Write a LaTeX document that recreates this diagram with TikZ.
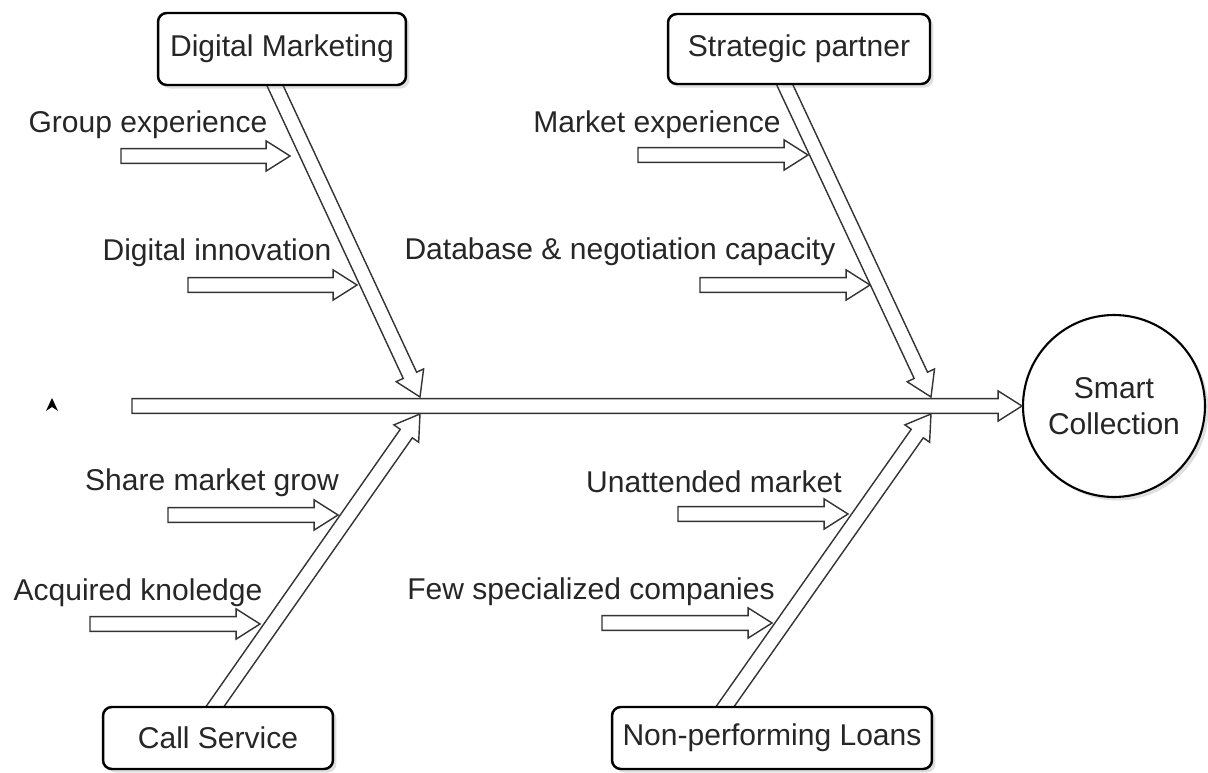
\documentclass[tikz,border=0pt]{standalone}
\usepackage{fontspec}
\setmainfont{Liberation Sans}
\usetikzlibrary{calc,shadows}

% hollow block arrow from #1 to #2
\newcommand{\blockarrow}[2]{%
  \draw[blockarrow] let \p1=(#1), \p2=(#2),
    \n1={atan2(\y2-\y1,\x2-\x1)}, \n2={veclen(\x2-\x1,\y2-\y1)} in
    [shift={(\p1)}, rotate=\n1]
    (0pt,-4.2pt) -- ({\n2-13.6pt},-4.2pt) -- ({\n2-13.6pt},-8.6pt) -- (\n2,0pt)
    -- ({\n2-13.6pt},8.6pt) -- ({\n2-13.6pt},4.2pt) -- (0pt,4.2pt) -- cycle;
}

\begin{document}
\begin{tikzpicture}[x=0.02cm, y=-0.02cm,
    every node/.style={font=\fontsize{17.1pt}{20.5pt}\selectfont, text=black!85},
    blockarrow/.style={draw=black!80, fill=white, line width=0.8pt},
    cause/.style={draw=black, line width=1.4pt, fill=white, rounded corners=5pt,
      drop shadow={shadow xshift=2pt, shadow yshift=-2pt, opacity=0.25}},
    label/.style={inner sep=0pt}]
    \useasboundingbox (0,0) rectangle (1208,773);

    %Head
    \node[circle, draw=black, line width=1.2pt, fill=white, minimum size=3.64cm,
      align=center, drop shadow={shadow xshift=2pt, shadow yshift=-2pt, opacity=0.25}]
      (sc) at (1114,406) {Smart\\Collection};

    %Spine
    \coordinate (tail) at (132,406);
    \blockarrow{tail}{sc.west}

    %Bones
    \coordinate (dmT) at (258,49);
    \coordinate (dmH) at (420,397);
    \coordinate (spT) at (768,49);
    \coordinate (spH) at (931,397);
    \coordinate (csT) at (193,738);
    \coordinate (csH) at (420,414);
    \coordinate (nplT) at (703,738);
    \coordinate (nplH) at (931,414);
    \blockarrow{dmT}{dmH}
    \blockarrow{spT}{spH}
    \blockarrow{csT}{csH}
    \blockarrow{nplT}{nplH}

    %Causes
    \foreach \name/\xa/\xb/\y in {ge/121/290/156, di/188/357/285, me/638/808/155,
        db/700/870/285, sm/168/338/515, ak/90/260/624, um/678/848/514, fs/602/772/623}{
      \coordinate (\name A) at (\xa,\y);
      \coordinate (\name B) at (\xb,\y);
      \blockarrow{\name A}{\name B}
    }
    \node[label] (geL) at (148,125) {Group experience};
    \node[label] (diL) at (217,253) {Digital innovation};
    \node[label] (meL) at (657,125) {Market experience};
    \node[label] (dbL) at (620,252) {Database \& negotiation capacity};
    \node[label] (smL) at (212,483) {Share market grow};
    \node[label] (akL) at (138,593) {Acquired knoledge};
    \node[label] (umL) at (714,482) {Unattended market};
    \node[label] (fsL) at (591,592) {Few specialized companies};

    %Categories
    \node[cause, minimum width=4.96cm, minimum height=1.44cm] (dm) at (282,49) {Digital Marketing};
    \node[cause, minimum width=5.24cm, minimum height=1.4cm] (sp) at (799,49) {Strategic partner};
    \node[cause, minimum width=4.6cm, minimum height=1.24cm] (cs) at (218,738) {Call Service};
    \node[cause, minimum width=6.4cm, minimum height=1.24cm] (npl) at (772,738) {Non-performing Loans};

    %Marker
    \fill (52,398) -- (58,411) -- (52,407) -- (46,411) -- cycle;
\end{tikzpicture}
\end{document}
